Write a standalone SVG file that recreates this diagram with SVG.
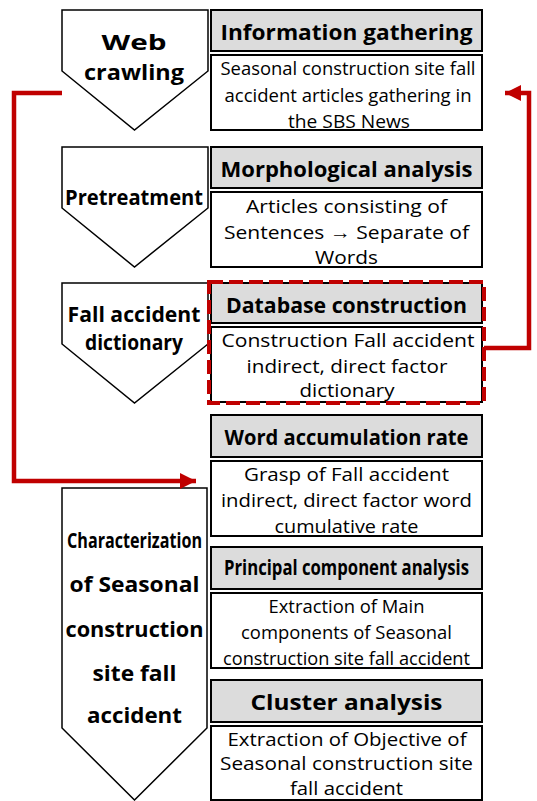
<svg xmlns="http://www.w3.org/2000/svg" width="537" height="801" viewBox="0 0 537 801">
<defs>
<style>
.pent{fill:#fff;stroke:#000;stroke-width:1.5}
.hdr{fill:#dcdcdc;stroke:#000;stroke-width:2}
.body{fill:#fff;stroke:#000;stroke-width:2}
.ht{font-family:"Open Sans","Noto Sans",sans-serif;font-weight:bold;font-size:21px;fill:#000;text-anchor:middle}
.bt{font-family:"Open Sans","Noto Sans",sans-serif;font-size:19px;fill:#000;text-anchor:middle}
.pt{font-family:"Open Sans","Noto Sans",sans-serif;font-weight:bold;font-size:21px;fill:#000;text-anchor:middle}
.conn{fill:none;stroke:#c00000;stroke-width:4.5}
.dash{fill:none;stroke:#c00000;stroke-width:4;stroke-dasharray:14 6}
</style>
<marker id="arr" markerUnits="userSpaceOnUse" markerWidth="18" markerHeight="16" refX="16" refY="8" orient="auto">
<path d="M0,0 L16,8 L0,16 Z" fill="#c00000"/>
</marker>
</defs>

<g id="web-crawling">
<path class="pent" d="M62,10 H208 V71 L134.5,130 L62,71 Z"/>
<text class="pt" x="134" y="50" font-size="24" textLength="65" lengthAdjust="spacingAndGlyphs">Web</text>
<text class="pt" x="134" y="80" font-size="24" textLength="100" lengthAdjust="spacingAndGlyphs">crawling</text>
</g>
<g id="information-gathering">
<rect class="hdr" x="211" y="10" width="271" height="41"/>
<text class="ht" x="346.5" y="40" textLength="252" lengthAdjust="spacingAndGlyphs">Information gathering</text>
<rect class="body" x="211" y="55" width="271" height="75"/>
<text class="bt" x="348" y="75" textLength="255" lengthAdjust="spacingAndGlyphs">Seasonal construction site fall</text>
<text class="bt" x="348" y="102" textLength="247" lengthAdjust="spacingAndGlyphs">accident articles gathering in</text>
<text class="bt" x="349" y="128" textLength="122" lengthAdjust="spacingAndGlyphs">the SBS News</text>
</g>

<g id="pretreatment">
<path class="pent" d="M62,147 H208 V208 L134.5,267 L62,208 Z"/>
<text class="pt" x="134" y="205" font-size="21" textLength="138" lengthAdjust="spacingAndGlyphs">Pretreatment</text>
</g>
<g id="morphological-analysis">
<rect class="hdr" x="211" y="147" width="271" height="41"/>
<text class="ht" x="346.5" y="177" textLength="252" lengthAdjust="spacingAndGlyphs">Morphological analysis</text>
<rect class="body" x="211" y="192" width="271" height="75"/>
<text class="bt" x="346.5" y="213" textLength="201" lengthAdjust="spacingAndGlyphs">Articles consisting of</text>
<text class="bt" x="346.5" y="239" textLength="245" lengthAdjust="spacingAndGlyphs">Sentences → Separate of</text>
<text class="bt" x="346.5" y="264" textLength="63" lengthAdjust="spacingAndGlyphs">Words</text>
</g>

<g id="fall-accident-dictionary">
<path class="pent" d="M62,283 H208 V344 L134.5,403 L62,344 Z"/>
<text class="pt" x="134" y="322" font-size="21" textLength="133" lengthAdjust="spacingAndGlyphs">Fall accident</text>
<text class="pt" x="134" y="350" font-size="21" textLength="98" lengthAdjust="spacingAndGlyphs">dictionary</text>
</g>
<g id="database-construction">
<rect class="hdr" x="211" y="283" width="271" height="40"/>
<text class="ht" x="346.5" y="313" textLength="241" lengthAdjust="spacingAndGlyphs">Database construction</text>
<rect class="body" x="211" y="327" width="271" height="75"/>
<text class="bt" x="348" y="347" textLength="253" lengthAdjust="spacingAndGlyphs">Construction Fall accident</text>
<text class="bt" x="347" y="373" textLength="201" lengthAdjust="spacingAndGlyphs">indirect, direct factor</text>
<text class="bt" x="347" y="397" textLength="95" lengthAdjust="spacingAndGlyphs">dictionary</text>
<rect class="dash" x="209" y="282" width="275" height="121"/>
</g>

<g id="characterization">
<path class="pent" d="M62,488 H207 V728 L134.5,800 L62,728 Z"/>
<text class="pt" x="134.5" y="548" font-size="20" textLength="135" lengthAdjust="spacingAndGlyphs">Characterization</text>
<text class="pt" x="134.5" y="592" textLength="130" lengthAdjust="spacingAndGlyphs">of Seasonal</text>
<text class="pt" x="134.5" y="637" textLength="138" lengthAdjust="spacingAndGlyphs">construction</text>
<text class="pt" x="134.5" y="681" textLength="84" lengthAdjust="spacingAndGlyphs">site fall</text>
<text class="pt" x="134.5" y="723" textLength="95" lengthAdjust="spacingAndGlyphs">accident</text>
</g>
<g id="word-accumulation-rate">
<rect class="hdr" x="211" y="415" width="271" height="42"/>
<text class="ht" x="346.5" y="445" textLength="244" lengthAdjust="spacingAndGlyphs">Word accumulation rate</text>
<rect class="body" x="211" y="461" width="271" height="75"/>
<text class="bt" x="346.5" y="481" textLength="205" lengthAdjust="spacingAndGlyphs">Grasp of Fall accident</text>
<text class="bt" x="346.5" y="507" textLength="251" lengthAdjust="spacingAndGlyphs">indirect, direct factor word</text>
<text class="bt" x="346.5" y="533" textLength="144" lengthAdjust="spacingAndGlyphs">cumulative rate</text>
</g>
<g id="principal-component-analysis">
<rect class="hdr" x="211" y="547" width="271" height="42"/>
<text class="ht" x="346.5" y="575" font-size="18" textLength="245" lengthAdjust="spacingAndGlyphs">Principal component analysis</text>
<rect class="body" x="211" y="593" width="271" height="75"/>
<text class="bt" x="346.5" y="613" textLength="156" lengthAdjust="spacingAndGlyphs">Extraction of Main</text>
<text class="bt" x="346.5" y="639" textLength="211" lengthAdjust="spacingAndGlyphs">components of Seasonal</text>
<text class="bt" x="346.5" y="665" textLength="247" lengthAdjust="spacingAndGlyphs">construction site fall accident</text>
</g>
<g id="cluster-analysis">
<rect class="hdr" x="211" y="680" width="271" height="42"/>
<text class="ht" x="346.5" y="710" font-size="24" textLength="192" lengthAdjust="spacingAndGlyphs">Cluster analysis</text>
<rect class="body" x="211" y="726" width="271" height="74"/>
<text class="bt" x="347" y="746" textLength="239" lengthAdjust="spacingAndGlyphs">Extraction of Objective of</text>
<text class="bt" x="346.5" y="770" textLength="253" lengthAdjust="spacingAndGlyphs">Seasonal construction site</text>
<text class="bt" x="346.5" y="795" textLength="113" lengthAdjust="spacingAndGlyphs">fall accident</text>
</g>

<g id="connectors">
<polyline class="conn" points="62,93 14,93 14,481 196,481" marker-end="url(#arr)"/>
<polyline class="conn" points="484,348 529,348 529,93 505,93" marker-end="url(#arr)"/>
</g>
</svg>
